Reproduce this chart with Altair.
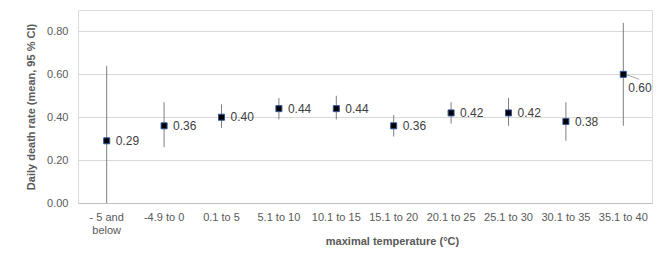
import altair as alt
import pandas as pd

categories = ["- 5 and below", "-4.9 to 0", "0.1 to 5", "5.1 to 10", "10.1 to 15",
              "15.1 to 20", "20.1 to 25", "25.1 to 30", "30.1 to 35", "35.1 to 40"]
means = [0.29, 0.36, 0.40, 0.44, 0.44, 0.36, 0.42, 0.42, 0.38, 0.60]
lower = [0.00, 0.26, 0.35, 0.39, 0.39, 0.31, 0.37, 0.36, 0.29, 0.36]
upper = [0.64, 0.47, 0.46, 0.49, 0.50, 0.41, 0.47, 0.49, 0.47, 0.84]
y_ticks = [0.0, 0.2, 0.4, 0.6, 0.8]

df = pd.DataFrame({"cat": categories, "mean": means, "lo": lower, "hi": upper})
df["lab"] = df["mean"].map(lambda v: f"{v:.2f}")

FONT = "Liberation Sans"
GREY = "#595959"

x_enc = alt.X("cat:N", sort=categories,
              scale=alt.Scale(paddingInner=0, paddingOuter=0),
              axis=alt.Axis(title="maximal temperature (°C)", labelAngle=0,
                            labelFont=FONT, labelFontSize=11, labelColor=GREY,
                            labelPadding=8, ticks=False, domainColor="#bfbfbf",
                            labelExpr="datum.label == '- 5 and below' ? ['- 5 and', 'below'] : datum.label",
                            titleFont=FONT, titleFontSize=11, titleFontWeight="bold",
                            titleColor=GREY, titleX=314, titleY=38,
                            titleAlign="center", titleBaseline="middle"))
y_scale = alt.Scale(domain=[0, 0.9], nice=False)

base = alt.Chart(df)

bars = base.mark_rule(color="#7f7f7f", strokeWidth=1, clip=True).encode(
    x=x_enc,
    y=alt.Y("lo:Q", scale=y_scale,
            axis=alt.Axis(title="Daily death rate  (mean, 95 % CI)", values=y_ticks,
                          format=".2f", labelFont=FONT, labelFontSize=11,
                          labelColor=GREY, labelPadding=10, ticks=False, domain=False,
                          gridColor="#d9d9d9", titleFont=FONT, titleFontSize=11,
                          titleFontWeight="bold", titleColor=GREY, titlePadding=10)),
    y2="hi:Q",
)

points = base.mark_point(shape="square", filled=True, size=36, color="black",
                         stroke="#2f5597", strokeWidth=1, opacity=1).encode(
    x=alt.X("cat:N", sort=categories), y=alt.Y("mean:Q", scale=y_scale)
)

labels = base.transform_filter(alt.datum.cat != "35.1 to 40").mark_text(
    align="left", baseline="middle", dx=9, font=FONT, fontSize=12, color="#404040"
).encode(x=alt.X("cat:N", sort=categories), y=alt.Y("mean:Q", scale=y_scale), text="lab:N")

last_label = base.transform_filter(alt.datum.cat == "35.1 to 40").mark_text(
    align="left", baseline="middle", dx=5, dy=14, font=FONT, fontSize=12, color="#404040"
).encode(x=alt.X("cat:N", sort=categories), y=alt.Y("mean:Q", scale=y_scale), text="lab:N")

leader = base.transform_filter(alt.datum.cat == "35.1 to 40").mark_rule(
    color="#a6a6a6", strokeWidth=1, xOffset=2, x2Offset=16, y2Offset=5
).encode(x=alt.X("cat:N", sort=categories, bandPosition=0.5),
         x2=alt.X2("cat:N", bandPosition=0.5),
         y=alt.Y("mean:Q", scale=y_scale), y2="mean:Q")

chart = alt.layer(bars, leader, points, labels, last_label).properties(
    width=574, height=193,
    autosize=alt.AutoSizeParams(type="none"),
    padding={"left": 70, "top": 2, "right": 9, "bottom": 48},
).configure_view(stroke="#d9d9d9", strokeWidth=1).configure(background="white")

chart.save("out.html", embed_options={"renderer": "svg", "actions": False})
